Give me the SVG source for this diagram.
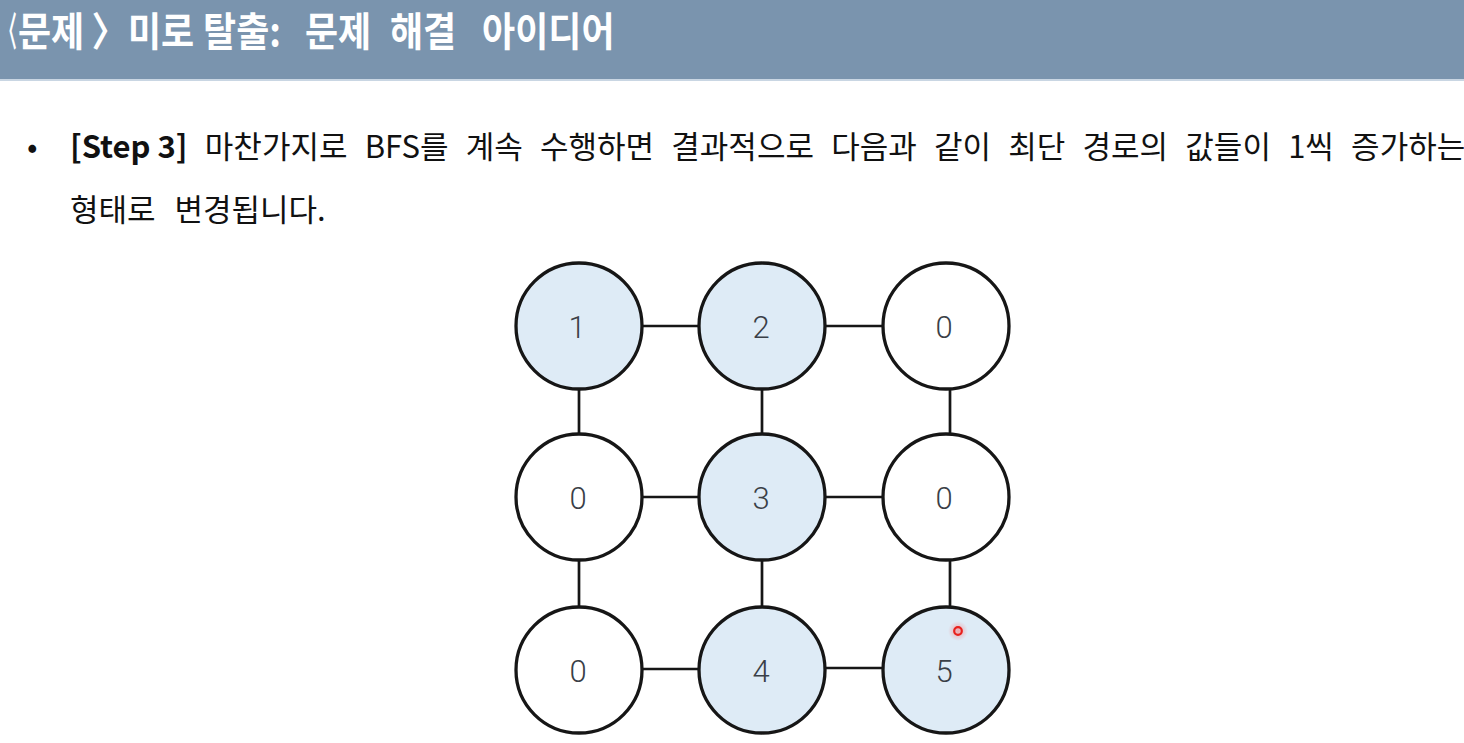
<svg xmlns="http://www.w3.org/2000/svg" width="1464" height="743" viewBox="0 0 1464 743">
<defs>
<style>
.title{font-family:"Noto Sans CJK KR","Noto Sans",sans-serif;font-weight:700;font-size:40px;fill:#ffffff}
.body{font-family:"Noto Sans CJK KR","Noto Sans",sans-serif;font-size:31px;fill:#111111}
.bold{font-weight:700}
.edge{stroke:#161616;stroke-width:2.7;fill:none}
.node{stroke:#161616;stroke-width:3.3}
.visited{fill:#deebf6}
.empty{fill:#ffffff}
.num{font-family:Roboto,"Liberation Sans",sans-serif;font-weight:300;font-size:31px;fill:#3a3f47;text-anchor:middle;dominant-baseline:central}
</style>
<radialGradient id="glow"><stop offset="0" stop-color="#ff6060" stop-opacity="0.5"/><stop offset="1" stop-color="#ff6060" stop-opacity="0"/></radialGradient>
</defs>
<rect x="0" y="0" width="1464" height="743" fill="#ffffff"/>
<rect x="0" y="0" width="1464" height="79" fill="#7a94ae"/>
<rect x="0" y="79" width="1464" height="2" fill="#c9d6e3"/>
<g id="title">
<text class="title" x="0" y="46" transform="scale(0.42,1)">〈</text>
<text class="title" y="46" transform="scale(0.9,1)"><tspan x="20">문제<tspan dx="8">〉</tspan></tspan><tspan x="142.2">미로</tspan><tspan x="225.6">탈출:</tspan><tspan x="338.9">문제</tspan><tspan x="433.3">해결</tspan><tspan x="535.6">아이디어</tspan></text>
</g>
<text class="body" x="27" y="158">•</text>
<text class="body" x="70" y="158" word-spacing="10.3"><tspan class="bold" word-spacing="0">[Step 3]</tspan> 마찬가지로 BFS를 계속 수행하면 결과적으로 다음과 같이 최단 경로의 값들이 1씩 증가하는</text>
<text class="body" x="70" y="221" word-spacing="12">형태로 변경됩니다.</text>
<g id="connectors">
<line class="edge" x1="641" y1="326" x2="699" y2="326"/>
<line class="edge" x1="825" y1="326" x2="883" y2="326"/>
<line class="edge" x1="641" y1="497" x2="699" y2="497"/>
<line class="edge" x1="825" y1="497" x2="883" y2="497"/>
<line class="edge" x1="641" y1="669" x2="699" y2="669"/>
<line class="edge" x1="825" y1="668" x2="883" y2="668"/>
<line class="edge" x1="579" y1="389" x2="579" y2="434"/>
<line class="edge" x1="762" y1="389" x2="762" y2="434"/>
<line class="edge" x1="950" y1="389" x2="950" y2="434"/>
<line class="edge" x1="579" y1="560" x2="579" y2="607"/>
<line class="edge" x1="762" y1="560" x2="762" y2="607"/>
<line class="edge" x1="950" y1="560" x2="950" y2="607"/>
</g>
<g id="n11"><circle class="node visited" cx="579" cy="326" r="63"/><text class="num" x="577" y="327">1</text></g>
<g id="n12"><circle class="node visited" cx="762" cy="326" r="63"/><text class="num" x="761" y="327">2</text></g>
<g id="n13"><circle class="node empty" cx="946" cy="326" r="63"/><text class="num" x="944" y="327">0</text></g>
<g id="n21"><circle class="node empty" cx="579" cy="497" r="63"/><text class="num" x="578" y="498">0</text></g>
<g id="n22"><circle class="node visited" cx="762" cy="497" r="63"/><text class="num" x="761" y="498">3</text></g>
<g id="n23"><circle class="node empty" cx="946" cy="497" r="63"/><text class="num" x="944" y="498">0</text></g>
<g id="n31"><circle class="node empty" cx="579" cy="670" r="63"/><text class="num" x="578" y="671">0</text></g>
<g id="n32"><circle class="node visited" cx="762" cy="670" r="63"/><text class="num" x="761" y="671">4</text></g>
<g id="n33"><circle class="node visited" cx="946" cy="670" r="63"/><text class="num" x="944" y="671">5</text></g>
<circle cx="958" cy="631" r="10" fill="url(#glow)"/>
<circle cx="958" cy="631" r="3.8" fill="none" stroke="#e8201c" stroke-width="2.2"/>
</svg>
